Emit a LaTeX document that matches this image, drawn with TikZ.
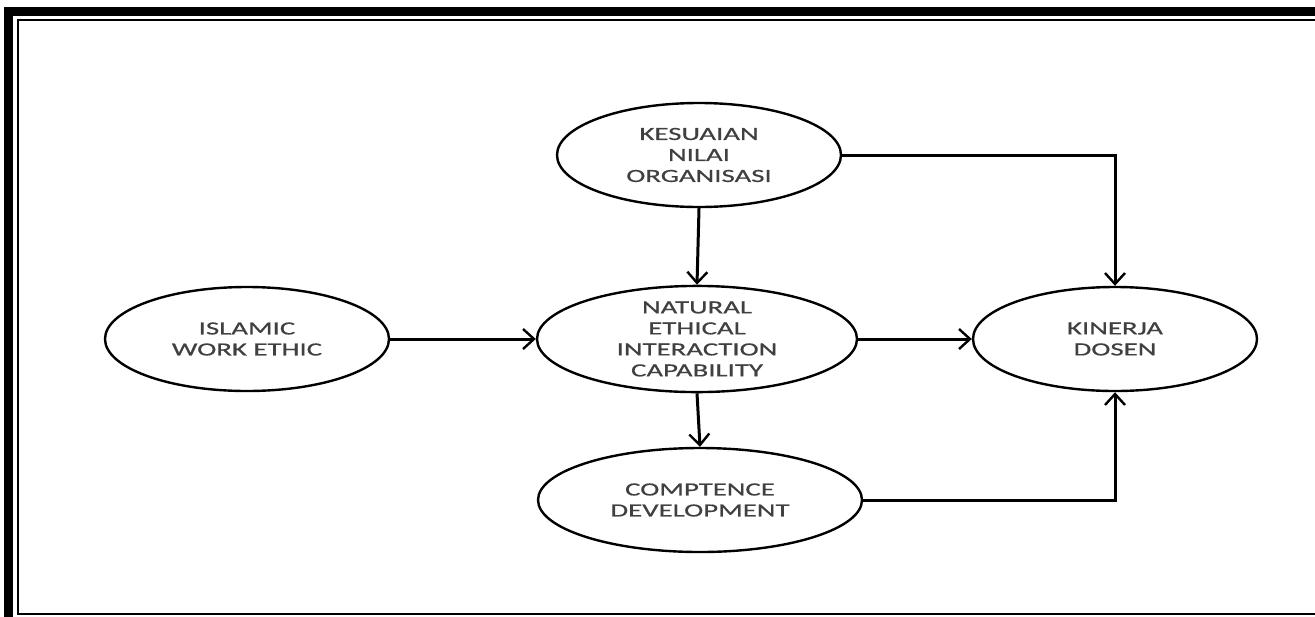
\documentclass[tikz,border=0pt]{standalone}
\usepackage{fontspec}
\setmainfont{Carlito}[FakeStretch=1.55,FakeBold=0.6]
\usetikzlibrary{shapes.geometric,arrows.meta}

\begin{document}
\begin{tikzpicture}[x=0.5pt,y=-0.5pt,
    var/.style={ellipse,draw,line width=1.2pt,inner sep=0pt,minimum height=52pt,
        align=center,text=black!75,font=\fontsize{9.3}{10.5}\selectfont},
    arr/.style={line width=1.5pt,-{Straight Barb[length=5.5pt,width=10pt,line width=1.2pt]}}]
                \useasboundingbox (0,0) rectangle (1315,616);
                \clip (0,0) rectangle (1315,616);

                % frame
                \draw[line width=4.5pt] (8.5,640) -- (8.5,11.5) -- (1340,11.5);
                \draw[line width=1pt] (1340,613.5) -- (17.5,613.5) -- (17.5,19.5) -- (1340,19.5);

                \coordinate (a) at (699,155);
                \coordinate (b) at (247,339);
                \coordinate (c) at (697,339);
                \coordinate (d) at (1115,339);
                \coordinate (e) at (700,500);

                \node[var,minimum width=142pt] (kes) at (a) {KESUAIAN\\NILAI\\ORGANISASI};
                \node[var,minimum width=142pt] (isl) at (b) {ISLAMIC\\WORK ETHIC};
                \node[var,minimum width=160pt] (nat) at (c) {NATURAL\\ETHICAL\\INTERACTION\\CAPABILITY};
                \node[var,minimum width=142pt] (kin) at (d) {KINERJA\\DOSEN};
                \node[var,minimum width=162pt] (com) at (e) {COMPTENCE\\DEVELOPMENT};

                \draw[arr] (kes.south) -- (nat.north);
                \draw[arr] (kes.east) -| (kin.north);
                \draw[arr] (isl.east) -- (nat.west);
                \draw[arr] (nat.east) -- (kin.west);
                \draw[arr] (nat.south) -- (com.north);
                \draw[arr] (com.east) -| (kin.south);
\end{tikzpicture}
\end{document}
